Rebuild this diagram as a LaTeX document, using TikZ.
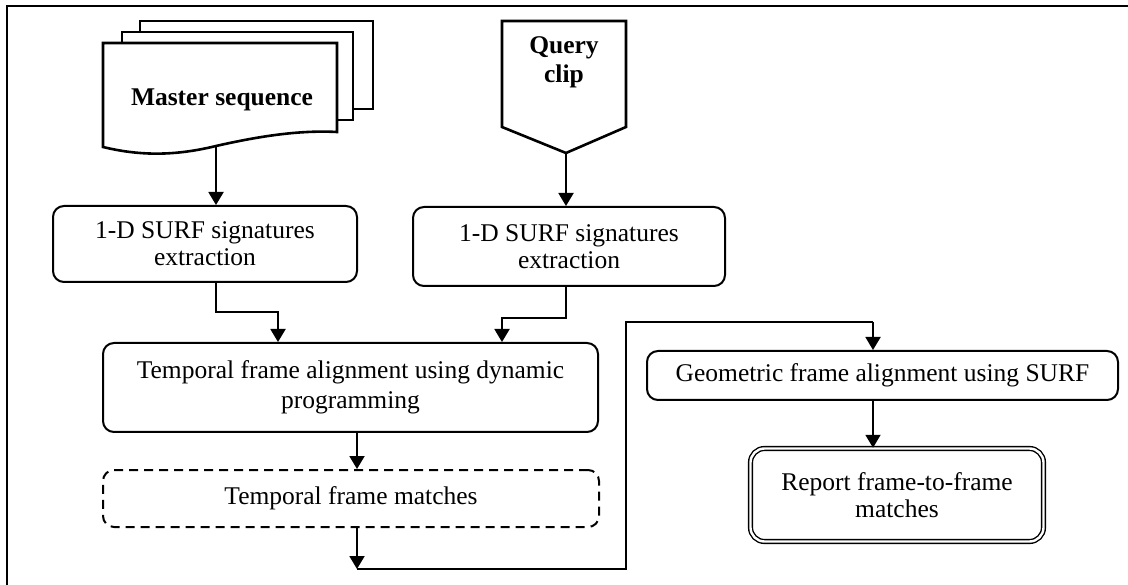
\documentclass[tikz,border=0pt]{standalone}
\usepackage{fontspec}
\setmainfont{Liberation Serif}
\usetikzlibrary{arrows.meta}

\newcommand\flowfont{\fontsize{25.5}{27}\selectfont}

\tikzset{
  conn/.style={line width=1.9pt, -{Triangle[length=13pt,width=15pt]}},
  wire/.style={line width=1.9pt},
  page/.style={draw, line width=2.6pt, fill=white, line join=miter},
  procbox/.style={draw, line width=2pt, rounded corners=11pt, align=center,
    inner sep=0pt, font=\flowfont},
  databox/.style={procbox, dash pattern=on 9pt off 6pt},
  endbox/.style={draw, line width=1.4pt, double, double distance=2.4pt,
    rounded corners=14pt, align=center, inner sep=0pt, font=\flowfont},
  label/.style={align=center, inner sep=0pt, font=\flowfont\bfseries}
}

\begin{document}
\begin{tikzpicture}[x=1pt,y=-1pt]
  \useasboundingbox (0,0) rectangle (1128,585);

  % outer frame
  \draw[line width=1.8pt] (7,620) -- (7,6) -- (1150,6);

  % master sequence: stack of documents
  \draw[page] (140,21) rectangle (373,109);
  \draw[page] (122,32) rectangle (353,120);
  \draw[page] (103,43) -- (337,43) -- (337,132)
    .. controls (300,130) and (260,136) .. (216,146)
    .. controls (175,156) and (140,156) .. (103,147) -- cycle;
  \node[label] (ms) at (222,100) {Master sequence};
  \coordinate (msb) at (216,146);

  % query clip: off-page connector
  \draw[page] (502,21) -- (626,21) -- (626,127) -- (566,153) -- (502,127) -- cycle;
  \node[label, font=\fontsize{25.5}{29}\selectfont\bfseries] (qc) at (564,62) {Query\\clip};
  \coordinate (qcb) at (566,153);

  % process steps
  \node[procbox, minimum width=304pt, minimum height=76pt] (sa) at (205,244)
    {1-D SURF signatures\\extraction};
  \node[procbox, minimum width=312pt, minimum height=79pt] (sb) at (569,246.5)
    {1-D SURF signatures\\extraction};
  \node[procbox, minimum width=495pt, minimum height=89pt,
        font=\fontsize{25.5}{30}\selectfont] (tf) at (350.5,387.5)
    {Temporal frame alignment using dynamic\\programming};
  \node[databox, minimum width=496pt, minimum height=57pt] (tm) at (351,498.5)
    {Temporal frame matches};
  \node[procbox, minimum width=471pt, minimum height=49pt] (gf) at (882.5,375.5)
    {Geometric frame alignment using SURF};
  \node[endbox, minimum width=293pt, minimum height=93pt] (rp) at (897,495)
    {Report frame-to-frame\\matches};

  % routing points
  \coordinate (ja) at (216,312);
  \coordinate (jb) at (566,318);
  \coordinate (jm) at (357,569);
  \coordinate (jr) at (626,569);
  \coordinate (jt) at (626,322);
  \coordinate (jg) at (873,322);

  % connectors
  \draw[conn] (msb) -- (msb |- sa.north);
  \draw[conn] (qcb) -- (qcb |- sb.north);
  \draw[conn] (ja |- sa.south) -- (ja) -- (278,312) -- (278,0 |- tf.north);
  \draw[conn] (jb |- sb.south) -- (jb) -- (502,318) -- (502,0 |- tf.north);
  \draw[conn] (jm |- tf.south) -- (jm |- tm.north);
  \draw[conn] (jm |- tm.south) -- (jm);
  \draw[wire] (jm) -- (jr) -- (jt) -- (jg);
  \draw[conn] (jg) -- (jg |- gf.north);
  \draw[conn] (jg |- gf.south) -- (jg |- rp.north);
\end{tikzpicture}
\end{document}
